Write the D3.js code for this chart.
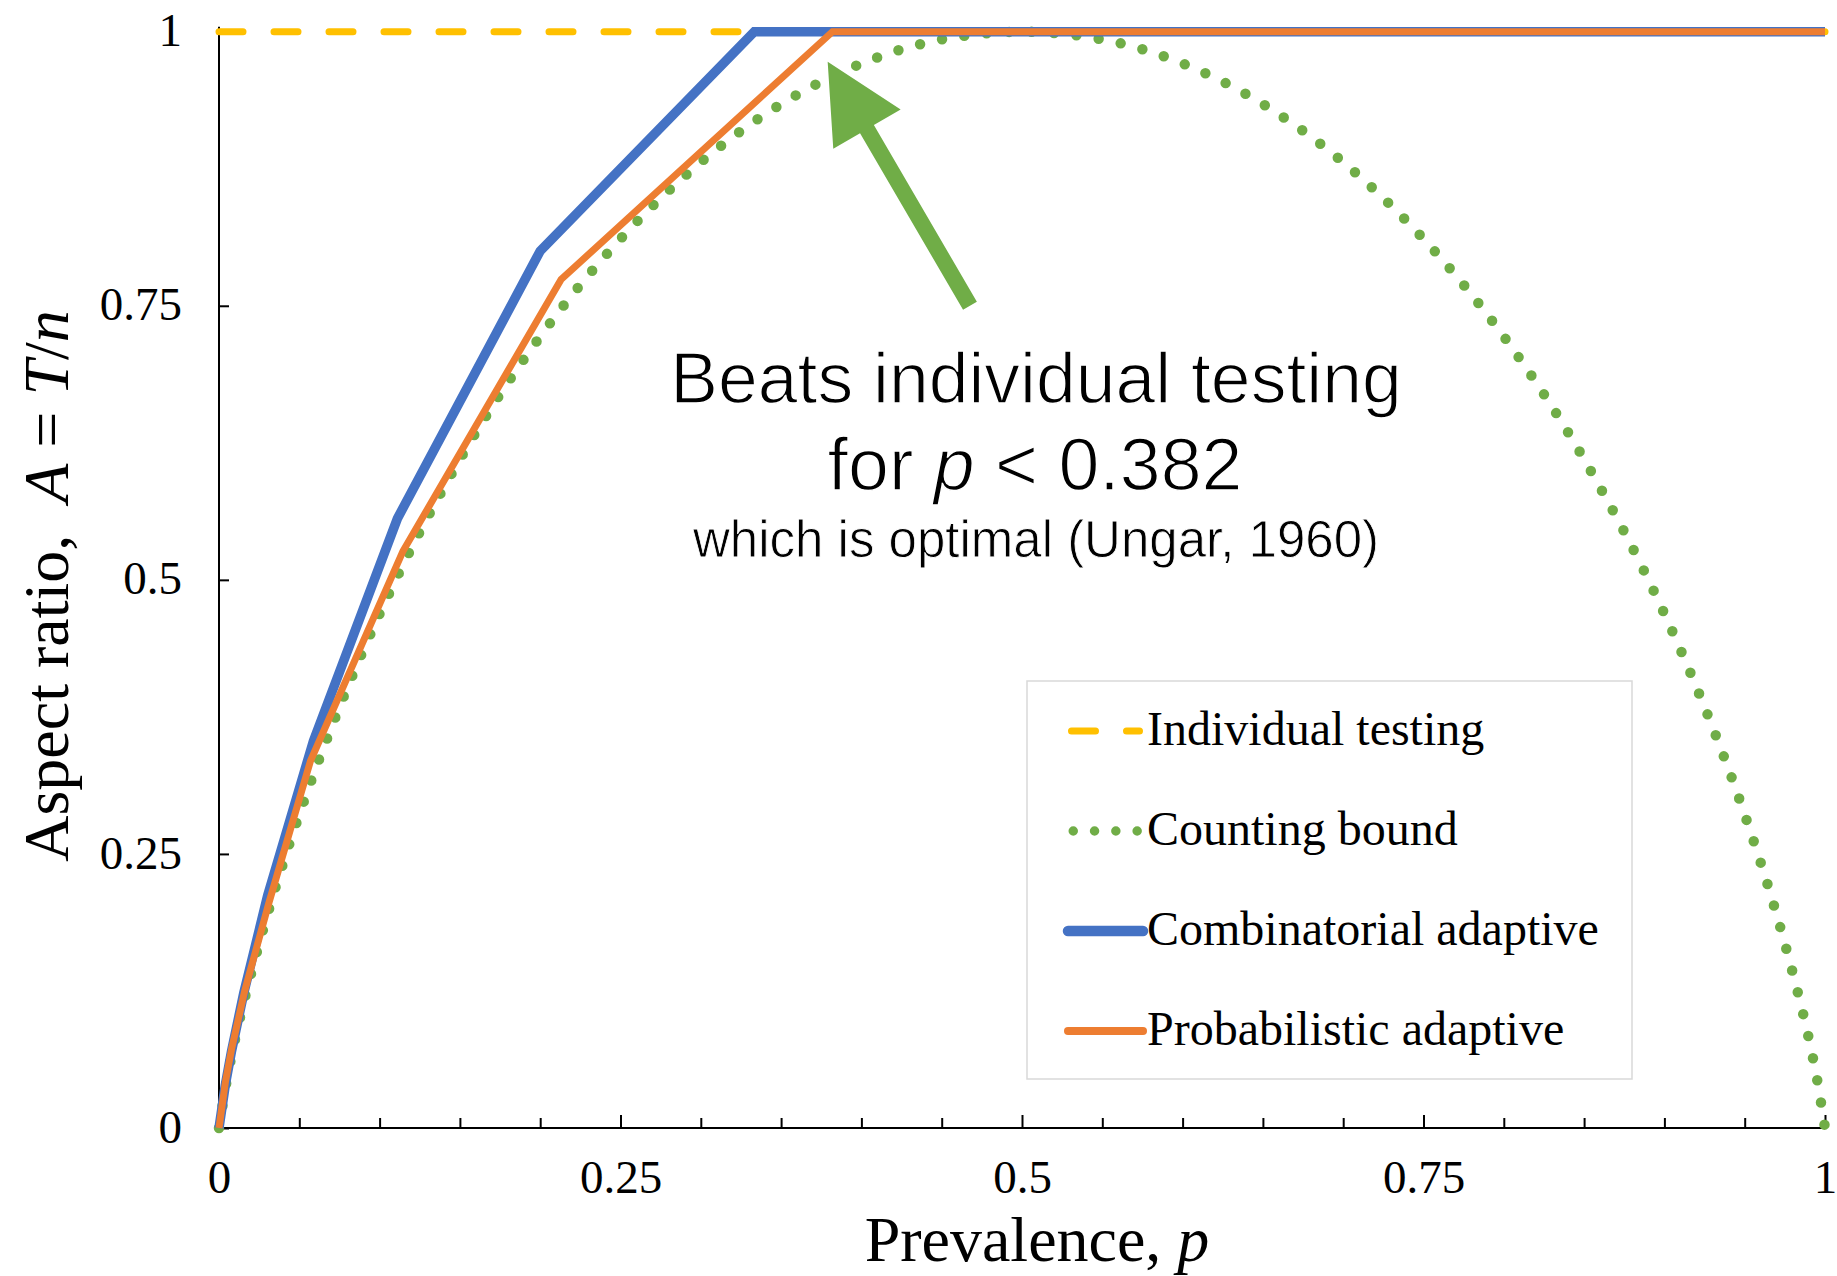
<!DOCTYPE html>
<html>
<head>
<meta charset="utf-8">
<script src="https://cdn.jsdelivr.net/npm/d3@7"></script>
<style>
  body { margin: 0; background: #fff; }
  svg { display: block; }
</style>
</head>
<body>
<div id="chart"></div>
<script>
// values
const individualP = [0, 1];
const individualA = [1, 1];

const countingP = [0, 0.005, 0.01, 0.02, 0.03, 0.05, 0.075, 0.1, 0.15, 0.2, 0.25, 0.3, 0.35, 0.4, 0.45, 0.5,
                   0.55, 0.6, 0.65, 0.7, 0.75, 0.8, 0.85, 0.9, 0.925, 0.95, 0.97, 0.98, 0.99, 0.995, 1];
const countingA = [0, 0.045, 0.081, 0.141, 0.194, 0.286, 0.384, 0.469, 0.61, 0.722, 0.811, 0.881, 0.934, 0.971, 0.993, 1,
                   0.993, 0.971, 0.934, 0.881, 0.811, 0.722, 0.61, 0.469, 0.384, 0.286, 0.194, 0.141, 0.081, 0.045, 0];

const combP = [0, 0.0039, 0.0078, 0.0154, 0.0303, 0.0588, 0.1111, 0.2, 0.3333, 1];
const combA = [0, 0.039, 0.07, 0.123, 0.212, 0.353, 0.556, 0.8, 1, 1];

const probP = [0, 0.004, 0.008, 0.016, 0.031, 0.057, 0.1145, 0.213, 0.382, 1];
const probA = [0, 0.042, 0.073, 0.125, 0.205, 0.335, 0.526, 0.774, 1, 1];

const yTicks = [0, 0.25, 0.5, 0.75, 1];
const xMajor = [0, 0.25, 0.5, 0.75, 1];
const xMinor = d3.range(0, 21).map(i => i / 20);

const legendNames = ["Individual testing", "Counting bound", "Combinatorial adaptive", "Probabilistic adaptive"];

const width = 1837, height = 1276;
const svg = d3.select("#chart").append("svg")
  .attr("width", width)
  .attr("height", height);

const x = d3.scaleLinear().domain([0, 1]).range([219, 1825]);
const y = d3.scaleLinear().domain([0, 1]).range([1128, 31.7]);

const serif = "'Liberation Serif', 'Times New Roman', serif";
const sans = "'Liberation Sans', Arial, Helvetica, sans-serif";

const styles = [
  { color: "#FFC000", w: 7, dash: "24 31", cap: "round" },
  { color: "#70AD47", w: 10.5, dash: "0 22.5", cap: "round" },
  { color: "#4472C4", w: 9.5, dash: null, cap: "butt" },
  { color: "#ED7D31", w: 7, dash: null, cap: "butt" }
];

function pairs(ps, as) { return ps.map((p, i) => [p, as[i]]); }

const series = [
  { pts: pairs(individualP, individualA), curve: d3.curveLinear, s: styles[0] },
  { pts: pairs(countingP, countingA), curve: d3.curveMonotoneX, s: styles[1] },
  { pts: pairs(combP, combA), curve: d3.curveLinear, s: styles[2] },
  { pts: pairs(probP, probA), curve: d3.curveLinear, s: styles[3] }
];

// axes, ticks point inward
const gx = svg.append("g").attr("transform", `translate(0,${y(0)})`);
gx.call(d3.axisBottom(x).tickValues(xMinor.filter(v => !xMajor.includes(v))).tickSize(-10).tickFormat(""));
gx.call(g => g.select(".domain").remove());
const gx2 = svg.append("g").attr("transform", `translate(0,${y(0)})`);
gx2.call(d3.axisBottom(x).tickValues(xMajor).tickSize(-13).tickSizeOuter(0).tickPadding(32).tickFormat(d3.format("")));
gx2.select(".domain").remove();
svg.selectAll("g.tick line").attr("stroke", "#000").attr("stroke-width", 2);
gx2.selectAll("text").attr("font-family", serif).attr("font-size", 47).attr("fill", "#000");

const gy = svg.append("g").attr("transform", `translate(${x(0)},0)`);
gy.call(d3.axisLeft(y).tickValues(yTicks).tickSize(-10).tickSizeOuter(0).tickPadding(37).tickFormat(d3.format("")));
gy.select(".domain").remove();
gy.selectAll("line").attr("stroke", "#000").attr("stroke-width", 2);
gy.selectAll("text").attr("font-family", serif).attr("font-size", 47).attr("fill", "#000").attr("dy", "0.3em");

svg.append("line")
  .attr("x1", x(0)).attr("x2", x(1)).attr("y1", y(0)).attr("y2", y(0))
  .attr("stroke", "#000").attr("stroke-width", 2.2);
svg.append("line")
  .attr("x1", x(0)).attr("x2", x(0)).attr("y1", y(0) + 1).attr("y2", y(1) - 5)
  .attr("stroke", "#000").attr("stroke-width", 2);

// lines
series.forEach(d => {
  const line = d3.line().x(v => x(v[0])).y(v => y(v[1])).curve(d.curve);
  svg.append("path")
    .datum(d.pts)
    .attr("d", line)
    .attr("fill", "none")
    .attr("stroke", d.s.color)
    .attr("stroke-width", d.s.w)
    .attr("stroke-linecap", d.s.cap)
    .attr("stroke-linejoin", "miter")
    .attr("stroke-dasharray", d.s.dash);
});

// axis titles
svg.append("text")
  .attr("x", 1037).attr("y", 1261)
  .attr("text-anchor", "middle")
  .attr("font-family", serif).attr("font-size", 64)
  .html('Prevalence, <tspan font-style="italic">p</tspan>');

svg.append("text")
  .attr("transform", "translate(68,586) rotate(-90)")
  .attr("text-anchor", "middle")
  .attr("font-family", serif).attr("font-size", 64)
  .attr("xml:space", "preserve")
  .html('Aspect ratio,  <tspan font-style="italic">A</tspan> = <tspan font-style="italic">T</tspan>/<tspan font-style="italic">n</tspan>');

// arrow, tail and tip in data units
const tail = [x(0.4676), y(0.75)], tip = [x(0.379), y(0.9726)];
const dx = tip[0] - tail[0], dy = tip[1] - tail[1];
const len = Math.hypot(dx, dy);
const ux = dx / len, uy = dy / len, nx = -uy, ny = ux;
const headLen = 78, headHalf = 39, shaftHalf = 8;
const bx = tip[0] - ux * headLen, by = tip[1] - uy * headLen;
const arrowPts = [
  [tail[0] + nx * shaftHalf, tail[1] + ny * shaftHalf],
  [bx + nx * shaftHalf, by + ny * shaftHalf],
  [bx + nx * headHalf, by + ny * headHalf],
  tip,
  [bx - nx * headHalf, by - ny * headHalf],
  [bx - nx * shaftHalf, by - ny * shaftHalf],
  [tail[0] - nx * shaftHalf, tail[1] - ny * shaftHalf]
];
svg.append("polygon")
  .attr("points", arrowPts.map(p => p.join(",")).join(" "))
  .attr("fill", "#70AD47");

// annotation (thin white outline makes the sans face look lighter)
const note = svg.append("g").attr("font-family", sans).attr("text-anchor", "middle")
  .attr("fill", "#000").attr("stroke", "#fff");
note.append("text").attr("x", 1036).attr("y", 403).attr("font-size", 71.5)
  .attr("stroke-width", 1.4).text("Beats individual testing");
note.append("text").attr("x", 1035).attr("y", 490).attr("font-size", 73.5)
  .attr("stroke-width", 1.4)
  .html('for <tspan font-style="italic">p</tspan> &lt; 0.382');
note.append("text").attr("x", 1036).attr("y", 557).attr("font-size", 51)
  .attr("stroke-width", 0.8).text("which is optimal (Ungar, 1960)");

// legend
const lg = svg.append("g");
lg.append("rect")
  .attr("x", 1027).attr("y", 681).attr("width", 605).attr("height", 398)
  .attr("fill", "#fff").attr("stroke", "#d9d9d9").attr("stroke-width", 1.5);

legendNames.forEach((name, i) => {
  const s = styles[i];
  const ly = 731 + i * 100;
  const inset = s.cap === "round" ? s.w / 2 : 0;
  lg.append("line")
    .attr("x1", 1068 + inset).attr("x2", 1143 - inset)
    .attr("y1", ly).attr("y2", ly)
    .attr("stroke", s.color)
    .attr("stroke-width", i === 2 ? 10.5 : (i === 3 ? 8 : (i === 1 ? 9.5 : s.w)))
    .attr("stroke-linecap", "round")
    .attr("stroke-dasharray", i === 1 ? "0 21.3" : s.dash);
  lg.append("text")
    .attr("x", 1147).attr("y", ly + 14)
    .attr("font-family", serif).attr("font-size", 48)
    .text(name);
});
</script>
</body>
</html>
